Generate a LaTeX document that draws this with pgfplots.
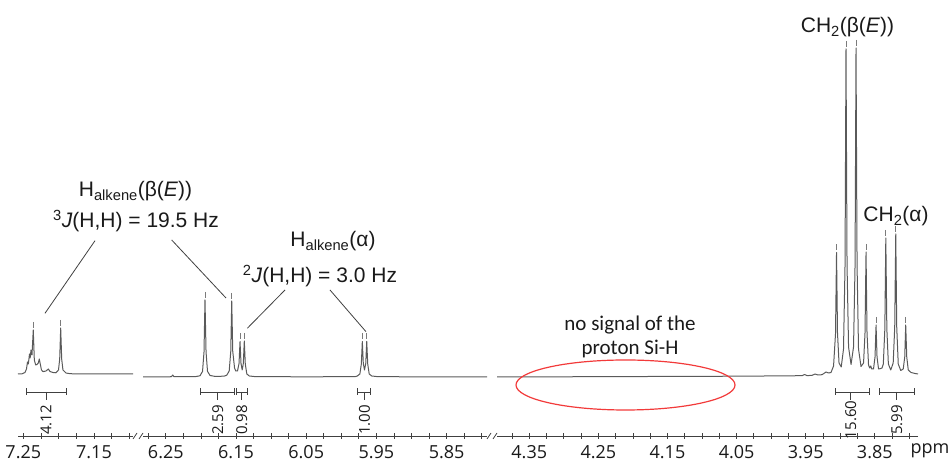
\documentclass[border=0pt]{standalone}
\usepackage{pgfplots}
\pgfplotsset{compat=1.18}
\usepackage{fontspec}
\setmainfont{Liberation Sans}
\newfontfamily\tickfont{Open Sans}
\newfontfamily\notefont{Carlito}
\definecolor{tracec}{HTML}{5A5A5A}
\definecolor{axisc}{HTML}{404040}
\definecolor{textc}{HTML}{1A1A1A}
\definecolor{ellc}{HTML}{F23A3A}
\newcommand{\ticklab}{\tickfont\fontsize{18bp}{20bp}\selectfont}
\newcommand{\intlab}{\tickfont\fontsize{15bp}{17bp}\selectfont}
\newcommand{\annot}{\fontsize{21bp}{25bp}\selectfont}
\tikzset{integ/.style={color=axisc, line width=0.8bp},
  lab/.style={font=\annot, text=textc, anchor=base, inner sep=0pt}}
\pgfplotsset{
  seg/.style={scale only axis, height=436bp, ymin=-59, ymax=377, x dir=reverse,
    axis x line=bottom, axis y line=none, x axis line style={-, color=axisc, line width=0.8bp},
    clip=false, ytick=\empty, tick style={color=axisc, line width=0.8bp},
    major tick length=6bp, minor tick length=6bp, tick align=center,
    xticklabel style={font=\ticklab, text=textc, anchor=north, inner sep=0pt, text depth=0pt, yshift=-6bp},
    /pgf/number format/assume math mode=true},
  trace/.style={color=tracec, line width=1bp, line join=round},
  pk/.style={only marks, mark=|, mark size=3bp, mark options={line width=0.8bp, color=tracec!80}},
}
\begin{document}
\begin{tikzpicture}[x=1bp,y=1bp]
\useasboundingbox (0,0) rectangle (951,461);
% ---------- segment 1 ----------
\begin{axis}[seg, at={(75.5bp,25bp)}, anchor=south, width=115bp, xmin=7.0948, xmax=7.2575,
  xtick={7.25,7.15}, xticklabels={7.25,7.15}, minor xtick={7.225,7.2,7.175,7.125,7.1}]
\addplot[trace] coordinates {
(7.2575,3) (7.2518,3.2) (7.2476,4.5) (7.2455,8) (7.2441,15) (7.2429,13) (7.2412,23)
(7.2403,19) (7.2391,27) (7.2377,22) (7.2359,47) (7.2344,17) (7.2325,12) (7.2306,12.5)
(7.2288,14) (7.2274,18) (7.2260,13) (7.2243,7) (7.2221,5.4) (7.2179,6) (7.2146,8)
(7.2122,5.5) (7.2080,4.5) (7.2038,4.2) (7.2002,7) (7.1985,18) (7.1971,49) (7.1957,18)
(7.1939,7) (7.1896,4) (7.1840,3.3) (7.1698,3) (7.0948,3)};
\addplot[pk] coordinates {(7.2359,52) (7.1971,54)};
\draw[integ] (axis cs:7.2452,-15) -- (axis cs:7.1896,-15);
\draw[integ] (axis cs:7.2452,-11.5) -- (axis cs:7.2452,-18.5);
\draw[integ] (axis cs:7.1896,-11.5) -- (axis cs:7.1896,-18.5);
\draw[integ] (axis cs:7.2179,-15) -- (axis cs:7.2179,-23);
\node[rotate=90, font=\intlab, text=textc, inner sep=0pt] at (axis cs:7.2179,-43) {4.12};
\end{axis}
% ---------- segment 2 ----------
\begin{axis}[seg, at={(315bp,25bp)}, anchor=south, width=344bp, xmin=5.7925, xmax=6.2825,
  xtick={6.25,6.15,6.05,5.95,5.85}, xticklabels={6.25,6.15,6.05,5.95,5.85},
  minor xtick={6.275,6.225,6.2,6.175,6.125,6.1,6.075,6.025,6.0,5.975,5.925,5.9,5.875,5.825,5.8}]
\addplot[trace] coordinates {
(6.2825,0) (6.2511,0) (6.2419,0.3) (6.2402,2) (6.2383,0.3) (6.2084,0.3) (6.2013,1.2)
(6.1977,5.6) (6.1956,25) (6.1942,77) (6.1927,25) (6.1906,5.6) (6.1870,1.5) (6.1799,0.6)
(6.1671,0.8) (6.1632,1.8) (6.1597,6) (6.1575,25.5) (6.1561,76) (6.1547,26) (6.1521,9)
(6.1504,6) (6.1479,6) (6.1457,13.6) (6.1443,35.5) (6.1429,13.6) (6.1412,7) (6.1396,13.6)
(6.1382,36) (6.1368,13) (6.1346,3) (6.1311,1) (6.1229,0.4) (6.0588,0.2) (5.9805,0.3)
(5.9772,1) (5.9736,3) (5.9715,13) (5.9701,35.5) (5.9687,13.6) (5.9670,7) (5.9652,13.6)
(5.9638,35.5) (5.9624,13) (5.9603,3) (5.9567,1) (5.9477,0.3) (5.7925,0)};
\addplot[pk] coordinates {(6.1942,82) (6.1561,81) (6.1443,40.5) (6.1382,41) (5.9701,40.5) (5.9638,40.5)};
\draw[integ] (axis cs:6.2013,-15) -- (axis cs:6.1524,-15);
\draw[integ] (axis cs:6.2013,-11.5) -- (axis cs:6.2013,-18.5);
\draw[integ] (axis cs:6.1524,-11.5) -- (axis cs:6.1524,-18.5);
\draw[integ] (axis cs:6.1761,-15) -- (axis cs:6.1761,-23);
\node[rotate=90, font=\intlab, text=textc, inner sep=0pt] at (axis cs:6.1761,-43) {2.59};
\draw[integ] (axis cs:6.1500,-15) -- (axis cs:6.1339,-15);
\draw[integ] (axis cs:6.1500,-11.5) -- (axis cs:6.1500,-18.5);
\draw[integ] (axis cs:6.1339,-11.5) -- (axis cs:6.1339,-18.5);
\draw[integ] (axis cs:6.1419,-15) -- (axis cs:6.1419,-23);
\node[rotate=90, font=\intlab, text=textc, inner sep=0pt] at (axis cs:6.1419,-43) {0.98};
\draw[integ] (axis cs:5.9766,-15) -- (axis cs:5.9591,-15);
\draw[integ] (axis cs:5.9766,-11.5) -- (axis cs:5.9766,-18.5);
\draw[integ] (axis cs:5.9591,-11.5) -- (axis cs:5.9591,-18.5);
\draw[integ] (axis cs:5.9670,-15) -- (axis cs:5.9670,-23);
\node[rotate=90, font=\intlab, text=textc, inner sep=0pt] at (axis cs:5.9670,-43) {1.00};
\end{axis}
% ---------- segment 3 ----------
\begin{axis}[seg, at={(707.5bp,25bp)}, anchor=south, width=421bp, xmin=3.7875, xmax=4.3967,
  xtick={4.35,4.25,4.15,4.05,3.95,3.85}, xticklabels={4.35,4.25,4.15,4.05,3.95,3.85},
  minor xtick={4.375,4.325,4.3,4.275,4.225,4.2,4.175,4.125,4.1,4.075,4.025,4.0,3.975,3.925,3.9,3.875,3.825,3.8}]
\addplot[trace] coordinates {
(4.3967,0) (4.3056,0.2) (4.1753,0.5) (4.0451,0.8) (3.9727,1.2) (3.9553,1.3) (3.9517,2.5)
(3.9481,1.4) (3.9409,1.6) (3.9365,3) (3.9322,2) (3.9264,2.3) (3.9206,5) (3.9170,4)
(3.9134,4.5) (3.9097,11) (3.9069,43) (3.9054,124.5) (3.9040,44) (3.9018,14) (3.8986,10)
(3.8953,28) (3.8931,112) (3.8917,328) (3.8902,112) (3.8880,30) (3.8844,12.5) (3.8808,30)
(3.8786,112) (3.8772,329) (3.8757,112) (3.8736,28) (3.8700,10.5) (3.8663,14) (3.8642,44)
(3.8627,125) (3.8613,44) (3.8591,12) (3.8574,9) (3.8559,11) (3.8545,8) (3.8519,8)
(3.8497,20) (3.8482,52) (3.8468,20) (3.8446,8) (3.8414,8.5) (3.8396,9) (3.8377,13)
(3.8355,48) (3.8341,139) (3.8326,48) (3.8304,13) (3.8270,7) (3.8234,14) (3.8212,50)
(3.8197,143) (3.8183,50) (3.8161,13) (3.8125,6.5) (3.8089,8) (3.8067,20) (3.8053,52)
(3.8038,20) (3.8016,7) (3.7976,4.5) (3.7918,3.5) (3.7875,3)};
\addplot[pk] coordinates {(3.9054,129.5) (3.8917,333) (3.8772,334) (3.8627,130) (3.8482,57) (3.8341,144) (3.8197,148) (3.8053,57)};
\draw[integ] (axis cs:3.9076,-15) -- (axis cs:3.8584,-15);
\draw[integ] (axis cs:3.9076,-11.5) -- (axis cs:3.9076,-18.5);
\draw[integ] (axis cs:3.8584,-11.5) -- (axis cs:3.8584,-18.5);
\draw[integ] (axis cs:3.8849,-15) -- (axis cs:3.8849,-23);
\node[rotate=90, font=\intlab, text=textc, inner sep=0pt] at (axis cs:3.8849,-43) {15.60};
\draw[integ] (axis cs:3.8439,-15) -- (axis cs:3.7933,-15);
\draw[integ] (axis cs:3.8439,-11.5) -- (axis cs:3.8439,-18.5);
\draw[integ] (axis cs:3.7933,-11.5) -- (axis cs:3.7933,-18.5);
\draw[integ] (axis cs:3.8183,-15) -- (axis cs:3.8183,-23);
\node[rotate=90, font=\intlab, text=textc, inner sep=0pt] at (axis cs:3.8183,-43) {5.99};
\end{axis}
% ---------- axis breaks ----------
\draw[axisc, line width=0.8bp] (133,22) -- (137,28);
\draw[axisc, line width=0.8bp] (139,22) -- (143,28);
\draw[axisc, line width=0.8bp] (487,22) -- (491,28);
\draw[axisc, line width=0.8bp] (493,22) -- (497,28);
\node[font=\tickfont\fontsize{18bp}{20bp}\selectfont, text=textc, anchor=base, inner sep=0pt] at (930,7) {ppm};
% ---------- annotations ----------
\draw[axisc, line width=0.8bp] (95,220.3) -- (45,147.7);
\draw[axisc, line width=0.8bp] (171.7,221) -- (226,163);
\draw[axisc, line width=0.8bp] (285,171) -- (247.3,132.7);
\draw[axisc, line width=0.8bp] (330,171) -- (366,129.3);
\node[lab] at (135.5,264) {H\textsubscript{alkene}(β(\textit{E}))};
\node[lab] at (136,233) {\textsuperscript{3}\textit{J}(H,H) = 19.5 Hz};
\node[lab] at (333,214) {H\textsubscript{alkene}(α)};
\node[lab] at (320,178) {\textsuperscript{2}\textit{J}(H,H) = 3.0 Hz};
\node[lab] at (847.5,428) {CH\textsubscript{2}(β(\textit{E}))};
\node[lab] at (896,239) {CH\textsubscript{2}(α)};
\node[font=\notefont\fontsize{21bp}{25bp}\selectfont, text=textc, anchor=base, inner sep=0pt] at (630,130) {no signal of the};
\node[font=\notefont\fontsize{21bp}{25bp}\selectfont, text=textc, anchor=base, inner sep=0pt] at (630,106) {proton Si-H};
\draw[ellc, line width=1.2bp] (625.5,76) ellipse [x radius=109.5, y radius=25];
\end{tikzpicture}
\end{document}
